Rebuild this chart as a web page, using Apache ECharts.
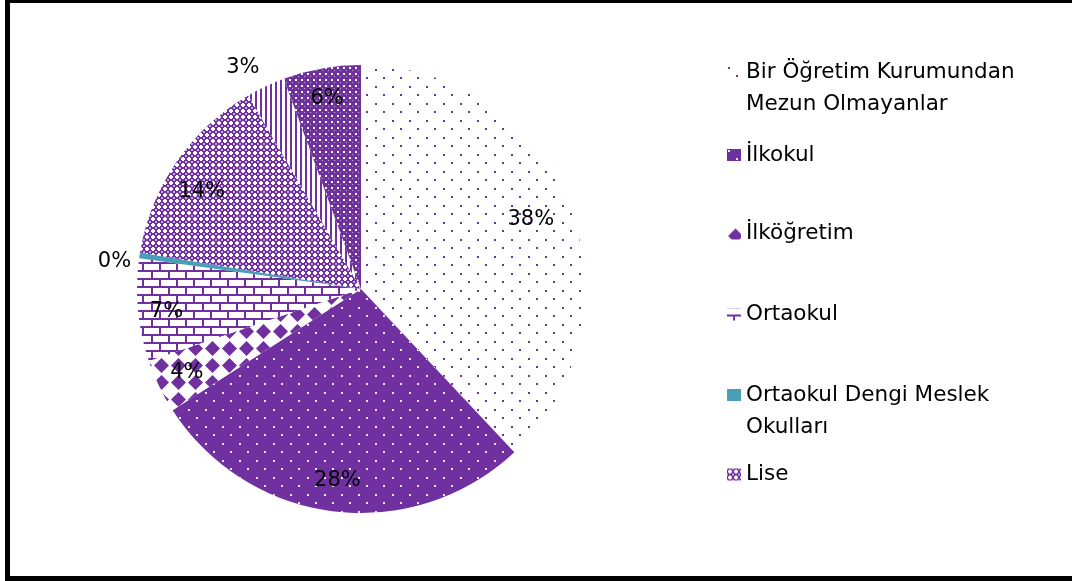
<!DOCTYPE html>
<html>
<head>
<meta charset="utf-8">
<script src="https://cdn.jsdelivr.net/npm/echarts@6/dist/echarts.min.js"></script>
<style>
  html, body { margin: 0; padding: 0; background: #fff; }
  #chart { width: 1072px; height: 581px; }
</style>
</head>
<body>
<div id="chart"></div>
<script>
// Education level shares (percent of total)
const categories = [
  'Bir Öğretim Kurumundan Mezun Olmayanlar',
  'İlkokul',
  'İlköğretim',
  'Ortaokul',
  'Ortaokul Dengi Meslek Okulları',
  'Lise',
  'Lise Dengi Meslek Okulları',
  'Yüksekokul veya Fakülte'
];
const shares = [38.0, 27.9, 3.9, 7.4, 0.4, 14.0, 2.8, 5.6];

// Legend entries shown on the right, with their wrapped text
const legendNames = categories.slice(0, 6);
const legendLines = [
  'Bir Öğretim Kurumundan\nMezun Olmayanlar',
  'İlkokul',
  'İlköğretim',
  'Ortaokul',
  'Ortaokul Dengi Meslek\nOkulları',
  'Lise'
];

// Thin slices whose labels sit just outside the rim
const outerLabelIdx = [4, 6];
// small nudges for individual value labels
const labelNudges = { 0: [-10, 2], 3: [-2, 4], 4: [0, 10], 5: [0, 12], 6: [-12, 4] };

const PURPLE = '#7030A0';
const FONT = 'DejaVu Sans';

function tile(w, h, draw) {
  const c = document.createElement('canvas');
  c.width = w; c.height = h;
  const g = c.getContext('2d');
  draw(g, w, h);
  return { image: c, repeat: 'repeat' };
}
function diamond(g, cx, cy, r) {
  g.beginPath();
  g.moveTo(cx, cy - r); g.lineTo(cx + r, cy); g.lineTo(cx, cy + r); g.lineTo(cx - r, cy);
  g.closePath(); g.fill();
}

// Fill patterns, one per slice
const patterns = [
  // sparse purple dots on white
  tile(17, 17, (g) => {
    g.fillStyle = '#fff'; g.fillRect(0, 0, 17, 17);
    g.fillStyle = PURPLE; g.fillRect(1, 1, 2, 2); g.fillRect(9, 9, 2, 2);
  }),
  // white dots on purple
  tile(17, 17, (g) => {
    g.fillStyle = PURPLE; g.fillRect(0, 0, 17, 17);
    g.fillStyle = '#efe6f5'; g.fillRect(1, 1, 2, 2); g.fillRect(9, 9, 2, 2);
  }),
  // solid purple diamonds on a white lattice
  tile(17, 17, (g) => {
    g.fillStyle = '#fff'; g.fillRect(0, 0, 17, 17);
    g.fillStyle = PURPLE;
    diamond(g, 8.5, 8.5, 7.5);
  }),
  // brick wall
  tile(17, 16, (g) => {
    g.fillStyle = PURPLE; g.fillRect(0, 0, 17, 16);
    g.fillStyle = '#fff';
    g.fillRect(0, 0, 15, 6);
    g.fillRect(0, 8, 6, 6); g.fillRect(8, 8, 9, 6);
  }),
  // solid teal
  '#4A9EB8',
  // white diamonds in a purple lattice
  tile(6, 6, (g) => {
    g.fillStyle = PURPLE; g.fillRect(0, 0, 6, 6);
    g.fillStyle = '#fff';
    g.fillRect(2, 1, 2, 1); g.fillRect(1, 2, 4, 2); g.fillRect(2, 4, 2, 1);
    g.fillStyle = '#c6addf';
    g.fillRect(0, 0, 1, 1); g.fillRect(5, 0, 1, 1); g.fillRect(0, 5, 1, 1); g.fillRect(5, 5, 1, 1);
  }),
  // vertical stripes
  tile(5, 1, (g) => {
    g.fillStyle = '#fff'; g.fillRect(0, 0, 5, 1);
    g.fillStyle = PURPLE; g.fillRect(0, 0, 2, 1);
  }),
  // dense purple with small white dots
  tile(6, 6, (g) => {
    g.fillStyle = PURPLE; g.fillRect(0, 0, 6, 6);
    g.fillStyle = '#fff'; g.fillRect(1, 1, 2, 2);
    g.fillStyle = '#c2a9da'; g.fillRect(4, 4, 1, 1);
  })
];

const CENTER = [361, 289];
const R = 224;

const pctLabel = (p) => Math.round(p.percent) + '%';
const labelStyle = { color: '#000', fontFamily: FONT, fontSize: 21 };

const mainData = categories.map((name, i) => ({
  name, value: shares[i], itemStyle: { color: patterns[i] }
}));
const labelData = (outer) => categories.map((name, i) => ({
  name, value: shares[i],
  label: {
    show: (outerLabelIdx.indexOf(i) >= 0) === outer,
    offset: labelNudges[i] || [0, 0]
  }
}));

// one legend block per entry, first text line centred on its swatch
const legendCentres = [72, 155, 233.5, 314.5, 395, 474.5];
const legends = legendNames.map((name, i) => {
  const twoLine = legendLines[i].indexOf('\n') >= 0;
  return {
    orient: 'vertical',
    left: 727,
    top: legendCentres[i] - (twoLine ? 48 : 16),
    padding: 0,
    itemWidth: 14,
    itemHeight: 12,
    icon: 'rect',
    selectedMode: false,
    data: [name],
    // a leading blank line keeps line 1 level with the swatch
    formatter: () => (twoLine ? '\n' : '') + legendLines[i],
    textStyle: { color: '#000', fontFamily: FONT, fontSize: 21.5, lineHeight: 32 }
  };
});

const labelSeries = (radius, outer) => ({
  type: 'pie',
  center: CENTER,
  radius,
  startAngle: 90,
  clockwise: true,
  silent: true,
  avoidLabelOverlap: false,
  itemStyle: { color: 'rgba(0,0,0,0)', borderWidth: 0 },
  label: Object.assign({ position: 'inside', formatter: pctLabel }, labelStyle),
  labelLine: { show: false },
  emphasis: { disabled: true },
  data: labelData(outer)
});

const chart = echarts.init(document.getElementById('chart'), null, { renderer: 'canvas' });
chart.setOption({
  animation: false,
  backgroundColor: '#fff',
  legend: legends,
  series: [
    {
      type: 'pie',
      center: CENTER,
      radius: R,
      startAngle: 90,
      clockwise: true,
      avoidLabelOverlap: false,
      label: { show: false },
      labelLine: { show: false },
      itemStyle: { borderWidth: 0 },
      emphasis: { disabled: true },
      data: mainData
    },
    labelSeries([R * 0.7, R], false),
    labelSeries([R, R * 1.2], true)
  ],
  graphic: [{
    type: 'rect',
    z: 100,
    silent: true,
    shape: { x: 7.5, y: 0.5, width: 1200, height: 578 },
    style: { fill: 'none', stroke: '#000', lineWidth: 5 }
  }]
});
</script>
</body>
</html>
